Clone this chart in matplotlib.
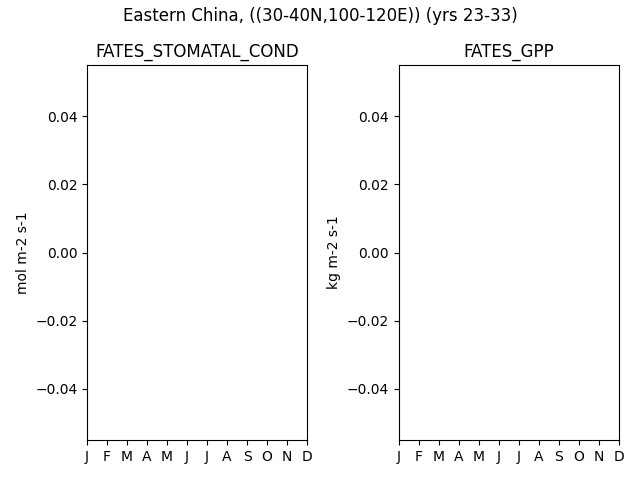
import numpy as np
import matplotlib
matplotlib.use("Agg")
import matplotlib.pyplot as plt

months = ['J', 'F', 'M', 'A', 'M', 'J', 'J', 'A', 'S', 'O', 'N', 'D']
variables = ['FATES_STOMATAL_COND', 'FATES_GPP']
units = ['mol m-2 s-1', 'kg m-2 s-1']

# no valid values in the region for these years
stomatal_cond = [np.nan] * 12
gpp = [np.nan] * 12
series = [stomatal_cond, gpp]

fig, axes = plt.subplots(1, 2, figsize=(6.4, 4.8), dpi=100)
x = np.arange(len(months))

for ax, var, unit, vals in zip(axes, variables, units, series):
    ax.plot(x, vals)
    ax.set_title(var)
    ax.set_ylabel(unit)
    ax.set_xticks(x)
    ax.set_xticklabels(months)
    ax.set_xlim(0, 11)
    ax.set_ylim(-0.055, 0.055)

fig.suptitle('Eastern China, ((30-40N,100-120E)) (yrs 23-33)', y=0.986)
fig.subplots_adjust(left=0.136, right=0.967, top=0.8646, bottom=0.0833,
                    wspace=0.418)
fig.savefig('out.png')
